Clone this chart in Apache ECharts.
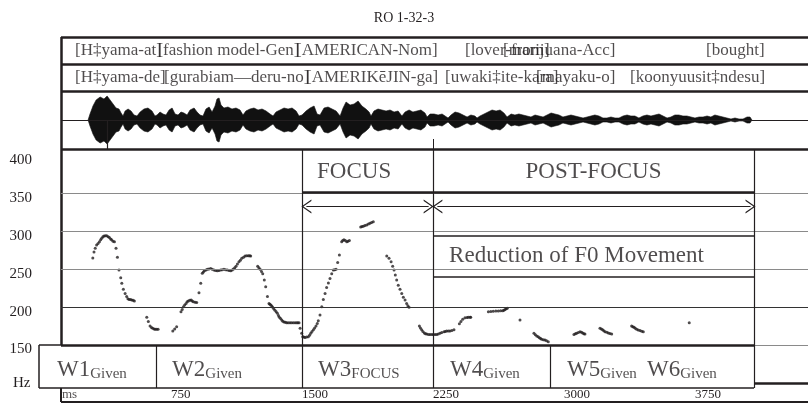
<!DOCTYPE html>
<html><head><meta charset="utf-8">
<script src="https://cdn.jsdelivr.net/npm/echarts/dist/echarts.min.js"></script>
<style>html,body{margin:0;padding:0;background:#fff}#c{width:808px;height:405px}</style>
</head><body><div id="c"></div>
<script>
// ---------------- data ----------------
const titleText = 'RO 1-32-3';
const hzTicks = [150, 200, 250, 300, 350, 400];
const msTicks = [750, 1500, 2250, 3000, 3750];
const hzUnit = 'Hz';
const msUnit = 'ms';

// gloss rows (English gloss / Japanese transcription) and their start times (ms)
const glossEn = ['[H‡yama-at]', '[fashion model-Gen]', '[AMERICAN-Nom]', '[lover-from]', '[marijuana-Acc]', '[bought]'];
const glossEnMs = [200, 672, 1466, 2433, 2651, 3813];
const glossJp = ['[H‡yama-de]', '[gurabiam—deru-no]', '[AMERIKēJIN-ga]', '[uwaki‡ite-kara]', '[mayaku-o]', '[koonyuusit‡ndesu]'];
const glossJpMs = [200, 710, 1523, 2319, 2840, 3378];

// word segmentation (ms) and word labels
const wordBounds = [-6, 664, 1500, 2250, 2920, 4088];
const wordNames = ['W1', 'W2', 'W3', 'W4', 'W5', 'W6'];
const wordStatus = ['Given', 'Given', 'FOCUS', 'Given', 'Given', 'Given'];
const wordLabelMs = [97, 756, 1592, 2347, 3017, 3475];

// focus regions (ms)
const focusStart = 1500, postFocusStart = 2250, regionEnd = 4088;

// waveform envelope [ms, amplitude]
const waveEnvelope = [
 [275,0],[286,6],[303,14],[321,20],[344,23],[366,21],[384,24],[401,20],[418,16],[435,12],
 [452,11],[464,7],[475,4],[487,9],[504,11],[521,9],[538,5],[555,4],[573,8],[595,11],
 [618,12],[641,9],[658,4],[670,5],[687,8],[704,6],[721,5],[739,10],[756,12],[773,6],
 [790,5],[807,8],[824,7],[842,5],[859,10],[882,12],[899,8],[916,5],[933,4],[950,11],
 [968,13],[985,8],[1002,14],[1013,21],[1025,22],[1036,15],[1053,12],[1076,13],[1099,11],[1122,12],
 [1145,10],[1162,5],[1179,9],[1202,11],[1225,12],[1248,10],[1271,11],[1294,9],[1317,6],[1334,4],
 [1351,8],[1374,10],[1397,12],[1420,11],[1443,12],[1466,9],[1483,4],[1500,5],[1523,9],[1546,12],
 [1569,14],[1586,6],[1603,5],[1626,12],[1649,13],[1672,11],[1695,9],[1718,4],[1735,12],[1752,18],
 [1775,15],[1798,16],[1821,19],[1843,14],[1866,11],[1884,8],[1895,4],[1912,9],[1935,11],[1958,10],
 [1981,9],[2004,10],[2027,8],[2050,9],[2072,4],[2090,8],[2113,10],[2135,8],[2158,9],[2181,10],
 [2204,7],[2216,3],[2233,6],[2256,6],[2279,5],[2302,6],[2319,4],[2336,2],[2353,5],[2376,8],
 [2399,7],[2422,5],[2445,3],[2467,5],[2490,4],[2502,2],[2519,4],[2542,6],[2565,8],[2588,10],
 [2611,9],[2634,10],[2656,7],[2674,3],[2697,6],[2719,5],[2742,6],[2765,5],[2788,4],[2811,3],
 [2834,5],[2857,4],[2880,3],[2903,5],[2926,7],[2948,6],[2971,5],[2994,3],[3017,4],[3040,5],
 [3063,4],[3086,3],[3109,2],[3132,3],[3154,4],[3177,5],[3200,4],[3223,2],[3246,2],[3269,3],
 [3292,2],[3315,2],[3338,4],[3361,5],[3383,4],[3406,4],[3429,2],[3452,4],[3475,5],[3498,4],
 [3521,5],[3544,6],[3567,4],[3590,2],[3612,3],[3635,5],[3658,5],[3681,4],[3704,4],[3727,3],
 [3750,2],[3773,3],[3796,3],[3819,4],[3841,3],[3864,5],[3887,4],[3910,3],[3933,2],[3956,1],
 [3979,2],[4002,1],[4025,1],[4048,3],[4065,3],[4076,0]
];

// F0 track [ms, Hz]
const f0Track = [
 [302,265],[309,273],[316,278],[324,282],[332,284],[340,286.5],[347,289],[353,291],[360,293],[366,294],[374,294.5],[382,294.5],[390,293],[397,292],[404,290],[410,289],[418,287],[426,286.5],[435,278],[443,266],[452,249],[462,239],[468,231.5],[477,223.6],[487,218],[496,214],[503,211],[510,210],[518,210],[525,209.5],[533,209],[540,208],
 [611,186.6],[620,181],[630,175],[638,173],[645,172],[653,171],[660,170.7],[668,170.7],[676,170.7],
 [760,168.5],[771,171],[782,174],[807,194],[814,197],[821,200.6],[828,203],[836,205],[842,207],[849,208],[857,209],[865,209.5],[871,208],[878,207],[888,206.5],[897,206],[910,219],[920,231.5],[929,244.8],[935,246.5],[941,248],[950,249],[958,250],[967,250.5],[977,251],[986,250],[996,249],[1005,248.5],[1015,248],[1024,248.5],[1034,249],[1043,249.5],[1053,250],[1063,249.5],[1073,249],[1083,248.5],[1092,248],[1100,249],[1107,250.4],[1115,252],[1122,254],[1130,257],[1139,260],[1147,262],[1155,264.6],[1165,266],[1174,267.6],[1183,268],[1193,268],[1200,268],[1206,267.6],
 [1246,254],[1253,252],[1260,250],[1268,247],[1275,244],[1284,236],[1292,227],[1302,214],[1311,205],[1316,204],[1321,203],[1327,201.5],[1332,200],[1338,198],[1345,196],[1352,194],[1359,192],[1365,189],[1370,186.6],[1377,185],[1384,183],[1390,181.5],[1397,180.4],[1405,180],[1412,179.5],[1421,179.5],[1431,179.5],[1440,179.5],[1450,179.5],[1460,179.5],[1469,179.5],[1476,179.5],[1483,179.5],[1489,172],[1498,165.5],[1504,161],[1510,160.5],[1517,160],[1526,160.5],[1536,161],[1543,163],[1550,165.5],[1557,168],[1565,170],[1572,172.5],[1580,175],[1587,178.5],[1593,182],[1603,189.6],[1613,200.6],[1622,210],[1632,218],[1641,226],[1651,232],[1660,238],[1670,244],[1679,249],[1687,249.5],[1695,250],[1704,259],[1714,269],[1727,286.5],[1733,288],[1740,289],[1748,288],[1756,286.5],[1763,287],[1771,288],
 [1836,306],[1843,306.5],[1851,307],[1860,308],[1870,308.6],[1880,310],[1889,311],[1898,312],[1908,313],
 [1985,267.6],[1998,264.6],[2010,260],[2019,254],[2027,249],[2034,242.5],[2042,236],[2051,229],[2061,223.6],[2071,218],[2080,213],[2090,209.5],[2099,205],[2106,202],[2113,199.8],
 [2172,175],[2178,172.5],[2185,170],[2192,168],[2200,166],[2207,165],[2214,164.5],[2224,164],[2233,164],[2243,164],[2252,164],[2262,164],[2271,164],[2280,164.5],[2290,165.5],[2300,166.5],[2313,167.6],[2320,168],[2328,168.5],[2338,168.5],[2347,168.5],[2358,169],[2370,170],
 [2401,178],[2410,181],[2420,184],[2433,186],[2445,186.3],[2452,186.6],[2462,186.6],[2466,186.6],
 [2567,194],[2581,194.2],[2595,194.5],[2610,194.8],[2624,195],[2637,195.2],[2649,195.3],[2656,196],[2662,197],[2669,198],[2675,198.5],
 [2748,183],
 [2828,165.5],[2836,163.5],[2844,162],[2852,161],[2859,159.7],[2866,158.5],[2872,157.5],[2882,157],[2891,156.6],[2900,155.5],[2910,154.4],
 [3057,164],[3065,165],[3072,165.5],[3082,166.5],[3092,167.6],[3100,167],[3107,166],[3114,165],[3120,164.5],
 [3206,172],[3214,171],[3221,170],[3228,168.8],[3235,167.6],[3245,166.8],[3254,166],[3263,165.2],[3273,164.5],
 [3387,175],[3394,174],[3401,173.4],[3408,172],[3416,170.7],[3425,169.8],[3435,169],[3445,168.3],[3454,167.6],
 [3717,179.5]
];

// annotation texts
const focusLabel = 'FOCUS';
const postFocusLabel = 'POST-FOCUS';
const reductionLabel = 'Reduction of F0 Movement';

// ---------------- chart ----------------
const INK = '#231f20';
const SERIF = "'Liberation Serif','Times New Roman',serif";
const X_MIN = -6, X_MAX = 4397, FRAME_X = 120;
const HZ_MIN = 150, HZ_MAX = 409;
const gridLines = [200, 250, 300, 350];
const focusBoxBottomHz = 351.5, arrowHz = 333, reductionTopHz = 295, reductionBottomHz = 240;

function seg(x1, y1, x2, y2, w, c, extra) {
  const a = Object.assign({coord: [x1, y1], lineStyle: {width: w, color: c || INK, type: 'solid'}}, extra || {});
  const b = Object.assign({coord: [x2, y2]}, extra || {});
  return [a, b];
}
function ml(data) {
  return {silent: true, animation: false, symbol: ['none', 'none'], label: {show: false},
          emphasis: {disabled: true}, data: data};
}
const chevron = 'path://M5,0L10,10L9,10L5,2L1,10L0,10Z';
function arrow(x1, x2, y) {
  const ex = {symbol: chevron, symbolSize: [14, 10]};
  return seg(x1, y, x2, y, 1, INK, ex);
}

const grids = [
  {left: 39, right: 0, top: 37, height: 54},
  {left: 39, right: 0, top: 91, height: 58},
  {left: 39, right: 0, top: 149, height: 196},
  {left: 39, right: 0, top: 345, height: 43},
  {left: 39, right: 0, top: 388, height: 14}
];
const xAxes = grids.map((g, i) => ({
  type: 'value', gridIndex: i, min: X_MIN, max: X_MAX, show: i === 4,
  axisLine: {show: false}, axisTick: {show: false}, splitLine: {show: false},
  axisLabel: i === 4 ? {show: true, inside: true, margin: 1, align: 'left', customValues: msTicks,
    formatter: v => String(v), fontFamily: SERIF, fontSize: 13, color: INK} : {show: false}
}));
const yAxes = [
  {type: 'value', gridIndex: 0, min: 0, max: 2, show: false},
  {type: 'value', gridIndex: 1, min: -29, max: 29, show: false},
  {type: 'value', gridIndex: 2, min: HZ_MIN, max: HZ_MAX, show: true,
   axisLine: {show: false}, axisTick: {show: false}, splitLine: {show: false},
   axisLabel: {customValues: hzTicks, margin: 7, fontFamily: SERIF, fontSize: 15, color: INK,
     verticalAlign: 'top', lineHeight: 9}},
  {type: 'value', gridIndex: 3, min: 0, max: 1, show: false},
  {type: 'value', gridIndex: 4, min: 0, max: 1, show: false}
];

const headerData = glossEn.map((t, i) => [glossEnMs[i], 1.5, t])
  .concat(glossJp.map((t, i) => [glossJpMs[i], 0.5, t]));

const wordData = wordNames.map((n, i) => [wordLabelMs[i], 0.42, n, wordStatus[i]]);

const pitchLines = [];
pitchLines.push(seg(FRAME_X, HZ_MIN, FRAME_X, HZ_MAX, 2.5));
gridLines.forEach(h => pitchLines.push(seg(FRAME_X, h, X_MAX, h, 1, h === 200 ? '#333' : '#8a8a8a')));
pitchLines.push(seg(FRAME_X, HZ_MIN, regionEnd, HZ_MIN, 2.5));
pitchLines.push(seg(regionEnd, HZ_MIN, X_MAX, HZ_MIN, 1, '#8a8a8a'));
[focusStart, postFocusStart, regionEnd].forEach(x => pitchLines.push(seg(x, HZ_MIN, x, HZ_MAX, 1.2)));
pitchLines.push(seg(focusStart, focusBoxBottomHz, regionEnd, focusBoxBottomHz, 2.5));
pitchLines.push(seg(postFocusStart, reductionTopHz, regionEnd, reductionTopHz, 1.5));
pitchLines.push(seg(postFocusStart, reductionBottomHz, regionEnd, reductionBottomHz, 1.5));
pitchLines.push(arrow(focusStart + 25, postFocusStart - 25, arrowHz));
pitchLines.push(arrow(postFocusStart + 25, regionEnd - 20, arrowHz));

const wordLines = [
  seg(X_MIN, 1, FRAME_X, 1, 1.5),
  seg(X_MIN, 0, regionEnd, 0, 1.5),
  seg(X_MIN + 1, 0, X_MIN + 1, 1, 1.5),
  seg(regionEnd, 0.116, X_MAX, 0.116, 2.5)
];
wordBounds.slice(1).forEach(x => wordLines.push(seg(x, 0, x, 1, 1.2)));

const option = {
  backgroundColor: '#fff',
  animation: false,
  title: {text: titleText, left: 'center', top: 6,
    textStyle: {fontFamily: SERIF, fontSize: 14, fontWeight: 'normal', color: INK}},
  grid: grids, xAxis: xAxes, yAxis: yAxes,
  graphic: [
    {type: 'text', left: 13, top: 376, style: {text: hzUnit, font: '15px ' + SERIF, fill: INK}}
  ],
  series: [
    { // header gloss rows
      type: 'scatter', xAxisIndex: 0, yAxisIndex: 0, symbolSize: 0, silent: true,
      data: headerData,
      label: {show: true, position: 'right', distance: 0, formatter: p => p.data[2],
        fontFamily: SERIF, fontSize: 17, color: INK},
      markLine: ml([
        seg(FRAME_X, 2, X_MAX, 2, 2.5),
        seg(FRAME_X, 1, X_MAX, 1, 2.5),
        seg(FRAME_X, 2, FRAME_X, 0, 2.5)
      ])
    },
    { // waveform upper
      type: 'line', xAxisIndex: 1, yAxisIndex: 1, showSymbol: false, silent: true,
      data: waveEnvelope.map(d => [d[0], d[1]]),
      lineStyle: {width: 0.6, color: '#111'}, areaStyle: {color: '#111', opacity: 1},
      markLine: ml([
        seg(FRAME_X, 29, X_MAX, 29, 2.5),
        seg(FRAME_X, 0, X_MAX, 0, 1),
        seg(FRAME_X, -29, X_MAX, -29, 2.5),
        seg(FRAME_X, -29, FRAME_X, 29, 2.5),
        seg(383, 0, 383, -29, 1.2),
        seg(postFocusStart, -19, postFocusStart, -29, 1)
      ])
    },
    { // waveform lower
      type: 'line', xAxisIndex: 1, yAxisIndex: 1, showSymbol: false, silent: true,
      data: waveEnvelope.map(d => [d[0], -d[1]]),
      lineStyle: {width: 0.6, color: '#111'}, areaStyle: {color: '#111', opacity: 1}
    },
    { // F0 points
      type: 'scatter', xAxisIndex: 2, yAxisIndex: 2, symbol: 'circle', symbolSize: 3,
      itemStyle: {color: INK}, silent: true, data: f0Track,
      markLine: ml(pitchLines)
    },
    { // region annotations
      type: 'scatter', xAxisIndex: 2, yAxisIndex: 2, symbolSize: 0, silent: true,
      data: [
        {value: [1586, 378.6], label: {formatter: focusLabel, position: 'right'}},
        {value: [(postFocusStart + regionEnd) / 2, 378.6], label: {formatter: postFocusLabel, position: 'inside'}},
        {value: [2342, 267.6], label: {formatter: reductionLabel, position: 'right'}}
      ],
      label: {show: true, distance: 0, fontFamily: SERIF, fontSize: 23, color: INK}
    },
    { // word labels
      type: 'scatter', xAxisIndex: 3, yAxisIndex: 3, symbolSize: 0, silent: true,
      data: wordData,
      label: {show: true, position: 'right', distance: 0,
        formatter: p => '{a|' + p.data[2] + '}{b|' + p.data[3] + '}',
        rich: {
          a: {fontFamily: SERIF, fontSize: 23, color: INK, verticalAlign: 'bottom', lineHeight: 24},
          b: {fontFamily: SERIF, fontSize: 15, color: INK, verticalAlign: 'bottom', lineHeight: 20}
        }},
      markLine: ml(wordLines)
    },
    { // ms row
      type: 'scatter', xAxisIndex: 4, yAxisIndex: 4, symbolSize: 0, silent: true,
      data: [[FRAME_X, 0.5]],
      label: {show: true, position: 'right', distance: 1, formatter: msUnit,
        fontFamily: SERIF, fontSize: 13, color: INK},
      markLine: ml([
        seg(FRAME_X, 0, X_MAX, 0, 2),
        seg(FRAME_X, 0, FRAME_X, 1, 2)
      ])
    }
  ]
};
const chart = echarts.init(document.getElementById('c'), null, {renderer: 'canvas'});
chart.setOption(option);
</script></body></html>
